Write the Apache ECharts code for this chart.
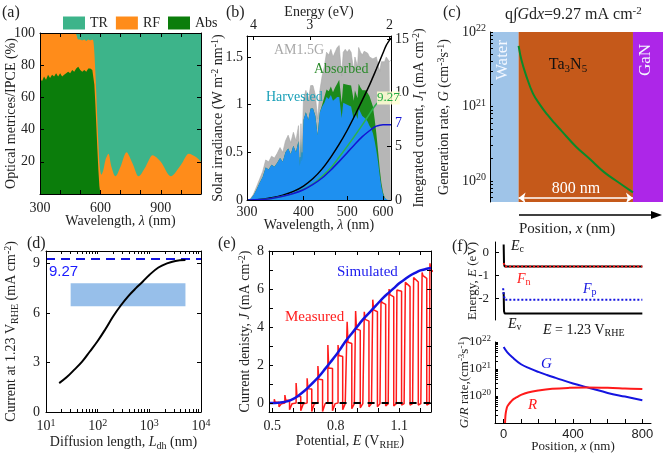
<!DOCTYPE html>
<html>
<head>
<meta charset="utf-8">
<script src="https://cdn.jsdelivr.net/npm/echarts@6.0.0/dist/echarts.min.js"></script>
<style>
html,body{margin:0;padding:0;background:#ffffff;}
#chart{width:663px;height:460px;}
</style>
</head>
<body>
<div id="chart"></div>
<script>
// ================= DATA =================
// (a) optical metrics: wavelength, top of Abs band, top of RF band (TR fills up to 100 %)
const aWl = [300,310,320,330,340,350,360,370,380,390,400,410,420,430,440,450,460,470,480,490,500,510,520,530,540,550,560,565,570,575,580,585,590,595,600,605,615,625,640,655,675,700,730,760,790,825,860,900,950,1000,1040,1075,1100];
const aAbsTop = [72,70,73,71,74,72,74,73,75,73,75,73,74,75,76,75,77,76,78,79,77,76,77,76,78,78,77,76,68,56,42,28,15,5,0,0,0,0,0,0,0,0,0,0,0,0,0,0,0,0,0,0,0];
const aRfTop = [100,100,100,100,100,100,100,100,100,100,100,100,100,100,100,100,100,100,99,96,96,95.5,96,95,96,95.5,96,95,88,76,62,46,32,20,14,12,15,21,25,17,11,17,26,19,11,17,24,20,11,18,25,23,20];

// (b) spectra (W m-2 nm-1)
const bWl = [300,305,310,315,320,325,330,335,340,345,350,355,360,365,370,375,380,385,390,393,395,397,400,405,410,415,420,425,430,435,440,445,450,455,460,465,470,475,480,486,490,495,500,505,510,517,520,527,530,535,540,545,550,555,560,565,570,575,580,585,590,595,600,605,610,615,620,625];
const bAm15 = [0.00,0.01,0.06,0.14,0.22,0.30,0.42,0.40,0.46,0.44,0.49,0.55,0.50,0.62,0.68,0.60,0.71,0.62,0.78,0.45,0.80,0.50,1.05,1.15,1.05,1.20,1.20,1.10,0.85,1.15,1.30,1.40,1.55,1.52,1.58,1.50,1.55,1.60,1.62,1.30,1.55,1.58,1.55,1.58,1.55,1.35,1.50,1.40,1.60,1.55,1.52,1.56,1.55,1.54,1.50,1.52,1.48,1.50,1.50,1.48,1.35,1.45,1.47,1.45,1.50,1.48,1.45,1.47];
const bAbsorbed = [0.00,0.01,0.05,0.11,0.18,0.24,0.34,0.32,0.37,0.35,0.39,0.44,0.40,0.50,0.54,0.48,0.57,0.50,0.62,0.36,0.64,0.40,0.84,0.92,0.84,0.96,0.96,0.88,0.68,0.92,1.00,1.08,1.16,1.14,1.19,1.13,1.18,1.22,1.26,1.02,1.22,1.24,1.21,1.23,1.20,1.04,1.15,1.07,1.22,1.18,1.15,1.17,1.15,1.13,1.09,1.08,0.98,0.85,0.70,0.52,0.33,0.18,0.08,0.03,0,0,0,0];
const bHarvested = [0.00,0.01,0.05,0.11,0.18,0.24,0.34,0.32,0.37,0.35,0.39,0.44,0.40,0.50,0.54,0.48,0.57,0.50,0.62,0.36,0.64,0.40,0.84,0.92,0.84,0.96,0.96,0.88,0.68,0.92,0.98,1.02,1.08,1.06,1.10,1.04,1.06,1.08,1.08,0.86,1.02,1.03,1.00,1.01,0.98,0.84,0.93,0.85,0.96,0.92,0.88,0.88,0.85,0.82,0.78,0.75,0.70,0.62,0.52,0.40,0.26,0.14,0.06,0.02,0,0,0,0];
// (b) integrated currents (mA cm-2)
const bJWl = [300,320,340,360,380,400,420,440,460,480,500,520,540,560,570,580,590,600,610,625];
const bJAm15 = [0,0.05,0.2,0.45,0.8,1.3,2.0,2.9,4.0,5.2,6.5,7.9,9.3,10.7,11.45,12.2,12.95,13.7,14.4,15.1];
const bJAbsorbed = [0,0.04,0.15,0.35,0.62,1.0,1.5,2.2,3.0,4.0,5.0,6.0,7.0,8.0,8.5,8.95,9.2,9.27,9.27,9.27];
const bJHarvested = [0,0.04,0.15,0.35,0.6,0.95,1.45,2.05,2.8,3.6,4.4,5.2,5.9,6.45,6.7,6.88,6.97,7.0,7.0,7.0];
const bLamTicks = [300,400,500,600];
const bEnergyTicks = [4,3,2];

// (c) generation rate
const cX = [0,20,50,100,150,200,250,300,400,500,600,700,800];
const cG = [6.5e21,4.2e21,2.7e21,1.5e21,1.05e21,7.8e20,6.0e20,4.7e20,2.9e20,1.95e20,1.3e20,9.5e19,7.0e19];
const cWater = [-200,0], cTa3N5 = [0,800], cGaN = [800,1010];

// (d) current vs diffusion length
const dL = [18,25,35,50,70,100,140,200,280,400,550,750,1000,1500,2200,3200,5000];
const dJ = [1.75,2.1,2.55,3.05,3.65,4.3,5.0,5.8,6.45,7.05,7.5,7.9,8.3,8.75,9.0,9.15,9.2];
const dLimit = 9.27;
const dBandX = [30,5000], dBandY = [6.4,7.8];

// (e) J-E curves
const eSimV = [0.485,0.5,0.525,0.55,0.575,0.6,0.625,0.65,0.675,0.7,0.725,0.75,0.775,0.8,0.825,0.85,0.875,0.9,0.925,0.95,0.975,1.0,1.025,1.05,1.075,1.1,1.125,1.15,1.175,1.2,1.225,1.25];
const eSimJ = [0,0,0.01,0.04,0.1,0.22,0.4,0.62,0.88,1.15,1.45,1.8,2.15,2.5,2.9,3.3,3.65,4.0,4.35,4.65,4.95,5.25,5.55,5.8,6.05,6.3,6.5,6.7,6.85,6.98,7.05,7.1];
const eOn   = [0.510,0.560,0.613,0.665,0.716,0.763,0.811,0.854,0.894,0.935,0.975,1.014,1.052,1.089,1.129,1.168,1.208,1.245];
const eOff  = [0.532,0.582,0.635,0.687,0.738,0.785,0.833,0.876,0.916,0.957,0.997,1.036,1.074,1.111,1.151,1.190,1.230,1.270];
const ePeak = [0.2,0.42,1.05,1.3,1.95,3.05,3.05,4.28,4.84,4.8,5.44,5.44,6.0,5.95,6.35,6.6,6.87,7.35];
const ePlat = [0.05,0.15,0.35,0.75,1.25,1.85,2.5,3.2,3.9,4.4,4.9,5.3,5.7,6.0,6.25,6.5,6.7,7.0];
const eNeg  = [-0.2,-0.35,-0.4,-0.45,-0.45,-0.4,-0.35,-0.3,-0.25,-0.2,-0.2,-0.15,-0.15,-0.1,-0.1,-0.1,-0.1,-0.1];
const eDark = [[0.62,0],[1.25,0]];

// (f) band diagram and G/R rates
const fEc = [[0,0.35],[2,-0.5],[6,-0.6],[800,-0.6]];
const fEv = [[0,-1.72],[2,-2.55],[6,-2.65],[800,-2.65]];
const fFn = [[0,-0.45],[6,-0.6],[800,-0.6]];
const fFp = [[-3,-1.55],[0,-1.85],[8,-2.05],[800,-2.05]];
const fRx = [8,10,13,17,22,30,40,55,75,100,140,200,280,380,480,600,700,800];
const fR  = [1e19,1.8e19,2.6e19,3.4e19,4.2e19,5e19,6e19,7.5e19,9e19,1.1e20,1.35e20,1.6e20,1.85e20,2.0e20,2.05e20,2.0e20,1.9e20,1.8e20];

// ================= HELPERS =================
const SERIF = 'Liberation Serif', SANS = 'Liberation Sans';
function richSet(fs){
  const s = Math.round(fs*0.68), p = Math.round(fs*0.5);
  return {
    sup:{fontFamily:SERIF,fontSize:s,padding:[0,0,p,0]},
    sub:{fontFamily:SERIF,fontSize:s,padding:[p,0,0,0]},
    i:{fontFamily:SERIF,fontStyle:'italic',fontSize:fs}
  };
}
function mg(a,b){
  const o={}; for(const k in a) o[k]=a[k];
  for(const k in b){const v=b[k],av=a[k];
    if(v&&typeof v==='object'&&!Array.isArray(v)&&av&&typeof av==='object'&&!Array.isArray(av)) o[k]=mg(av,v); else o[k]=v;}
  return o;
}
function axis(fs, ext){
  return mg({
    z:10, nameLocation:'middle', nameMoveOverlap:false,
    nameTextStyle:{fontFamily:SERIF,fontSize:fs,color:'#222',rich:richSet(fs)},
    axisLine:{show:true,onZero:false,lineStyle:{color:'#000',width:1}},
    axisTick:{show:true,inside:true,length:4,lineStyle:{color:'#000',width:1}},
    axisLabel:{show:true,fontFamily:SERIF,fontSize:fs,color:'#222',margin:5,rich:richSet(fs)},
    splitLine:{show:false}, splitArea:{show:false}
  }, ext);
}
const sup10 = v => '10{sup|' + Math.round(Math.log10(v)) + '}';
const zip = (xs, ys) => xs.map((x,i)=>[x, ys[i]]);
function logTicks(lo, hi){ const t=[]; for(let e=lo;e<hi;e++){ for(let m=1;m<10;m++) t.push(m*Math.pow(10,e)); } t.push(Math.pow(10,hi)); return t; }

const C = {tr:'#3db48a', rf:'#ff8c1a', abs:'#0b7d0b', gray:'#b6b6b6', bgreen:'#1c8a1c', bblue:'#1e90f0',
  jgreen:'#2bb34a', jblue:'#1414d2', water:'#9fc4e8', ta:'#c5591a', gan:'#ad26e8', gline:'#0a8a2a',
  red:'#ff1a1a', blue:'#1414e0'};

// measured chopped J-E trace built from the read-off on/off events
const eMeasured = [[0.485,0]];
for(let i=0;i<eOn.length;i++){
  eMeasured.push([eOn[i],0],[eOn[i],ePeak[i]],[eOn[i]+0.004,ePlat[i]],[eOff[i],ePlat[i]*0.98],[eOff[i],eNeg[i]],[eOff[i]+0.012,-0.03]);
}
const bEnergyPos = bEnergyTicks.map(e=>1239.84/e);

// ================= OPTION =================
const grids = [
  {left:40, top:33, width:161, height:161},   // a
  {left:247,top:36, width:144, height:164},   // b
  {left:490,top:32, width:173, height:170},   // c
  {left:46, top:251,width:155, height:161},   // d
  {left:269,top:251,width:162, height:161},   // e
  {left:495,top:242,width:156, height:78},    // f upper
  {left:495,top:342,width:156, height:81}     // f lower
].map(g=>Object.assign({containLabel:false, outerBoundsMode:'none'}, g));

const FS = 14;
const aTicks = [300,400,500,600,700,800,900,1000,1100];
const xAxis = [
  axis(FS,{gridIndex:0,type:'value',min:300,max:1100,interval:300,axisLabel:{margin:7,showMaxLabel:false},axisTick:{customValues:aTicks},
    name:'Wavelength, {i|λ} (nm)',nameGap:20}),
  axis(FS,{gridIndex:0,type:'value',position:'top',min:300,max:1100,interval:300,axisLabel:{show:false},axisTick:{customValues:aTicks}}),
  axis(FS,{gridIndex:1,type:'log',min:300,max:625,axisLabel:{customValues:bLamTicks,formatter:v=>String(Math.round(v))},axisTick:{customValues:bLamTicks},
    name:'Wavelength, {i|λ} (nm)',nameGap:18}),
  axis(FS,{gridIndex:1,type:'log',position:'top',min:300,max:625,axisLabel:{customValues:bEnergyPos,formatter:v=>String(Math.round(1239.84/v)),margin:4},axisTick:{customValues:bEnergyPos},
    name:'Energy (eV)',nameGap:17}),
  axis(FS,{gridIndex:2,type:'value',min:-200,max:1010,axisLine:{show:false},axisTick:{show:false},axisLabel:{show:false}}),
  axis(FS,{gridIndex:3,type:'log',min:10,max:10000,axisLabel:{formatter:sup10,margin:6},axisTick:{customValues:logTicks(1,4),length:3},
    name:'Diffusion length, {i|L}{sub|dh} (nm)',nameGap:22}),
  axis(FS,{gridIndex:3,type:'log',position:'top',min:10,max:10000,axisLabel:{show:false},axisTick:{customValues:logTicks(1,4),length:3}}),
  axis(FS,{gridIndex:4,type:'value',min:0.485,max:1.25,axisLabel:{customValues:[0.5,0.8,1.1],margin:7},axisTick:{customValues:[0.5,0.6,0.7,0.8,0.9,1.0,1.1,1.2]},
    name:'Potential, {i|E} (V{sub|RHE})',nameGap:21}),
  axis(FS,{gridIndex:4,type:'value',position:'top',min:0.485,max:1.25,axisLabel:{show:false},axisTick:{customValues:[0.5,0.6,0.7,0.8,0.9,1.0,1.1,1.2]}}),
  axis(13,{gridIndex:5,type:'value',min:-50,max:850,show:false}),
  axis(13,{gridIndex:6,type:'value',min:-50,max:850,axisLabel:{customValues:[0,400,800],fontFamily:SANS,fontSize:13,margin:5},axisTick:{customValues:[0,100,200,300,400,500,600,700,800]},
    name:'Position, {i|x} (nm)',nameGap:17})
];
const yAxis = [
  axis(FS,{gridIndex:0,type:'value',min:0,max:100,interval:20,axisLabel:{showMinLabel:false,margin:5},name:'Optical metrices/IPCE (%)',nameRotate:90,nameGap:22}),
  axis(FS,{gridIndex:0,type:'value',position:'right',min:0,max:100,interval:20,axisLabel:{show:false}}),
  axis(FS,{gridIndex:1,type:'value',min:0,max:1.72,interval:0.5,axisLabel:{showMaxLabel:false,margin:4},name:'Solar irradiance (W m{sup|-2} nm{sup|-1})',nameRotate:90,nameGap:20}),
  axis(FS,{gridIndex:1,type:'value',position:'right',min:0,max:15.28,interval:5,axisLabel:{showMaxLabel:false,margin:4},name:'Integrated current, {i|J}{sub|I} (mA cm{sup|-2})',nameRotate:90,nameGap:20}),
  axis(FS,{gridIndex:2,type:'log',min:5.2e19,max:1e22,axisLabel:{customValues:[1e20,1e21,1e22],formatter:sup10,margin:4},axisTick:{customValues:logTicks(19,22).filter(v=>v>=5.5e19),length:3},
    name:'Generation rate, {i|G} (cm{sup|-3}s{sup|-1})',nameRotate:90,nameGap:37}),
  axis(FS,{gridIndex:3,type:'value',min:0,max:9.75,interval:3,axisLabel:{showMaxLabel:false,margin:6},name:'Current at 1.23 V{sub|RHE} (mA cm{sup|-2})',nameRotate:90,nameGap:26}),
  axis(FS,{gridIndex:3,type:'value',position:'right',min:0,max:9.75,interval:3,axisLabel:{show:false}}),
  axis(FS,{gridIndex:4,type:'value',min:-0.47,max:8,axisLabel:{customValues:[0,2,4,6,8],margin:5},axisTick:{customValues:[0,1,2,3,4,5,6,7,8]},
    name:'Current denisty, {i|J} (mA cm{sup|-2})',nameRotate:90,nameGap:15}),
  axis(FS,{gridIndex:4,type:'value',position:'right',min:-0.47,max:8,axisLabel:{show:false},axisTick:{customValues:[0,1,2,3,4,5,6,7,8]}}),
  axis(13,{gridIndex:5,type:'value',min:-2.93,max:0.46,axisLabel:{customValues:[-2,-1,0],margin:6},axisTick:{customValues:[-2,-1,0]},
    name:'Energy, {i|E} (eV)',nameRotate:90,nameGap:16}),
  axis(13,{gridIndex:6,type:'log',min:1e19,max:1e22,axisLabel:{customValues:[1e20,1e21,1e22],formatter:sup10,margin:4},axisTick:{customValues:logTicks(19,22),length:3},
    name:'{i|G}/{i|R} rate,(cm{sup|-3}s{sup|-1})',nameRotate:90,nameGap:22})
];

function line(name,xi,yi,data,color,width,ext){
  return mg({name,type:'line',xAxisIndex:xi,yAxisIndex:yi,data,symbol:'none',showSymbol:false,silent:true,
    lineStyle:{color,width},itemStyle:{color},z:3},ext||{});
}
function area(name,xi,yi,data,color,ext){
  return mg({name,type:'line',xAxisIndex:xi,yAxisIndex:yi,data,symbol:'none',showSymbol:false,silent:true,
    lineStyle:{width:0,color},itemStyle:{color},areaStyle:{color,opacity:1},z:2},ext||{});
}

const series = [
  // (a)
  area('TR',0,0,aWl.map(w=>[w,100]),C.tr),
  area('RF',0,0,zip(aWl,aRfTop),C.rf,{smooth:0.3}),
  area('Abs',0,0,zip(aWl,aAbsTop),C.abs),
  // (b)
  area('AM1.5G',2,2,zip(bWl,bAm15),C.gray,{lineStyle:{width:0.6,color:'#a8a8a8'}}),
  area('Absorbed',2,2,zip(bWl,bAbsorbed),C.bgreen),
  area('Harvested',2,2,zip(bWl,bHarvested),C.bblue),
  line('J AM1.5G',2,3,zip(bJWl,bJAm15),'#000',1.5,{smooth:0.3}),
  line('J absorbed',2,3,zip(bJWl,bJAbsorbed),C.jgreen,1.5,{smooth:0.3}),
  line('J harvested',2,3,zip(bJWl,bJHarvested),C.jblue,1.5,{smooth:0.3}),
  // (c)
  line('G profile',4,4,zip(cX,cG),C.gline,2,{smooth:0.4,
    markArea:{silent:true,data:[
      [{xAxis:cWater[0],yAxis:5.2e19,itemStyle:{color:C.water}},{xAxis:cWater[1],yAxis:1e22}],
      [{xAxis:cTa3N5[0],yAxis:5.2e19,itemStyle:{color:C.ta}},{xAxis:cTa3N5[1],yAxis:1e22}],
      [{xAxis:cGaN[0],yAxis:5.2e19,itemStyle:{color:C.gan}},{xAxis:cGaN[1],yAxis:1e22}]
    ]},
    markLine:{silent:true,symbol:['arrow','arrow'],symbolSize:[8,7],label:{show:false},
      lineStyle:{color:'#ffffff',width:1.5,type:'solid'},
      data:[[{coord:[cTa3N5[0],5.9e19]},{coord:[cTa3N5[1],5.9e19]}]]}
  }),
  // (d)
  line('limit',5,5,[[10,dLimit],[10000,dLimit]],C.blue,2,{lineStyle:{type:[9,6]},
    markArea:{silent:true,itemStyle:{color:'#8cb8e8',opacity:0.9},data:[[{coord:[dBandX[0],dBandY[0]]},{coord:[dBandX[1],dBandY[1]]}]]}}),
  line('J vs L',5,5,zip(dL,dJ),'#000',2,{smooth:0.4,z:5}),
  // (e)
  line('Measured',7,7,eMeasured,C.red,1.5),
  line('Simulated',7,7,zip(eSimV,eSimJ),C.blue,2.5,{smooth:0.3,z:4}),
  line('Dark',7,7,eDark,'#000',2,{lineStyle:{type:[7,7]},z:5}),
  // (f) upper
  line('Ec',9,9,fEc,'#000',2),
  line('Ev',9,9,fEv,'#000',2),
  line('Fn',9,9,fFn,C.red,2,{lineStyle:{type:[2,2]},z:4}),
  line('Fp',9,9,fFp,C.blue,2,{lineStyle:{type:[2,2]},z:4}),
  // (f) lower
  line('G rate',10,10,zip(cX,cG),C.blue,2,{smooth:0.4}),
  line('R rate',10,10,zip(fRx,fR),C.red,2,{smooth:0.4})
];

function txt(x,y,text,fs,fill,ext){
  const base = {type:'text',x,y,silent:true,z:100,
    style:{text,fontFamily:SERIF,fontSize:fs,fill,align:'left',verticalAlign:'middle',rich:richSet(fs)}};
  return mg(base, ext||{});
}
const graphic = [
  txt(2,13,'(a)',16,'#222'), txt(226,13,'(b)',16,'#222'), txt(443,13,'(c)',16,'#222'),
  txt(27,244,'(d)',16,'#222'), txt(218,244,'(e)',16,'#222'), txt(452,247,'(f)',16,'#222'),
  // (b)
  txt(274,50,'AM1.5G',14,'#a8a8a8'),
  txt(314,69,'Absorbed',14,'#2a8a2a'),
  txt(266,97,'Harvested',14,'#1aa0b8'),
  txt(377,98,'9.27',13,'#22aa44',{style:{backgroundColor:'rgba(255,255,210,0.85)'}}),
  txt(395,123,'7',14,C.jblue),
  // (c)
  txt(505,15,'q∫{i|G}d{i|x}=9.27 mA cm{sup|-2}',16,'#222'),
  txt(503,60,'Water',17,'#f4f8ff',{rotation:Math.PI/2,style:{align:'center'}}),
  txt(568,65,'Ta{sub|3}N{sub|5}',16,'#111',{style:{align:'center'}}),
  txt(646,60,'GaN',17,'#f4f8ff',{rotation:Math.PI/2,style:{align:'center'}}),
  txt(576,189,'800 nm',16,'#ffffff',{style:{align:'center'}}),
  {type:'line',silent:true,z:100,shape:{x1:519,y1:215,x2:654,y2:215},style:{stroke:'#000',lineWidth:1.5}},
  {type:'polygon',silent:true,z:100,shape:{points:[[662,215],[651,211],[651,219]]},style:{fill:'#000'}},
  txt(519,229,'Position, {i|x} (nm)',15,'#222'),
  // (d)
  {type:'text',x:49,y:272,silent:true,z:100,style:{text:'9.27',fontFamily:SANS,fontSize:15,fill:'#1a1aff',align:'left',verticalAlign:'middle'}},
  // (e)
  txt(337,272,'Simulated',15,'#1a1aee'),
  txt(285,317,'Measured',15,'#ff2020'),
  // (f)
  txt(511,246,'{i|E}{sub|c}',14,'#111'),
  txt(517,279,'{i|F}{sub|n}',14,'#ff1a1a'),
  txt(583,289,'{i|F}{sub|p}',14,'#1414e0'),
  txt(508,324,'{i|E}{sub|v}',14,'#111'),
  txt(543,330,'{i|E} = 1.23 V{sub|RHE}',14,'#111'),
  txt(541,364,'{i|G}',15,'#1414e0'),
  txt(528,405,'{i|R}',15,'#ff1a1a')
];

const option = {
  animation:false,
  backgroundColor:'#ffffff',
  legend:{left:58,top:11,itemWidth:22,itemHeight:13,itemGap:8,icon:'rect',selectedMode:false,
    data:['TR','RF','Abs'],textStyle:{fontFamily:SERIF,fontSize:14,color:'#222'}},
  grid:grids, xAxis, yAxis, series, graphic
};
const chart = echarts.init(document.getElementById('chart'),null,{renderer:'canvas'});
chart.setOption(option);
</script>
</body>
</html>
